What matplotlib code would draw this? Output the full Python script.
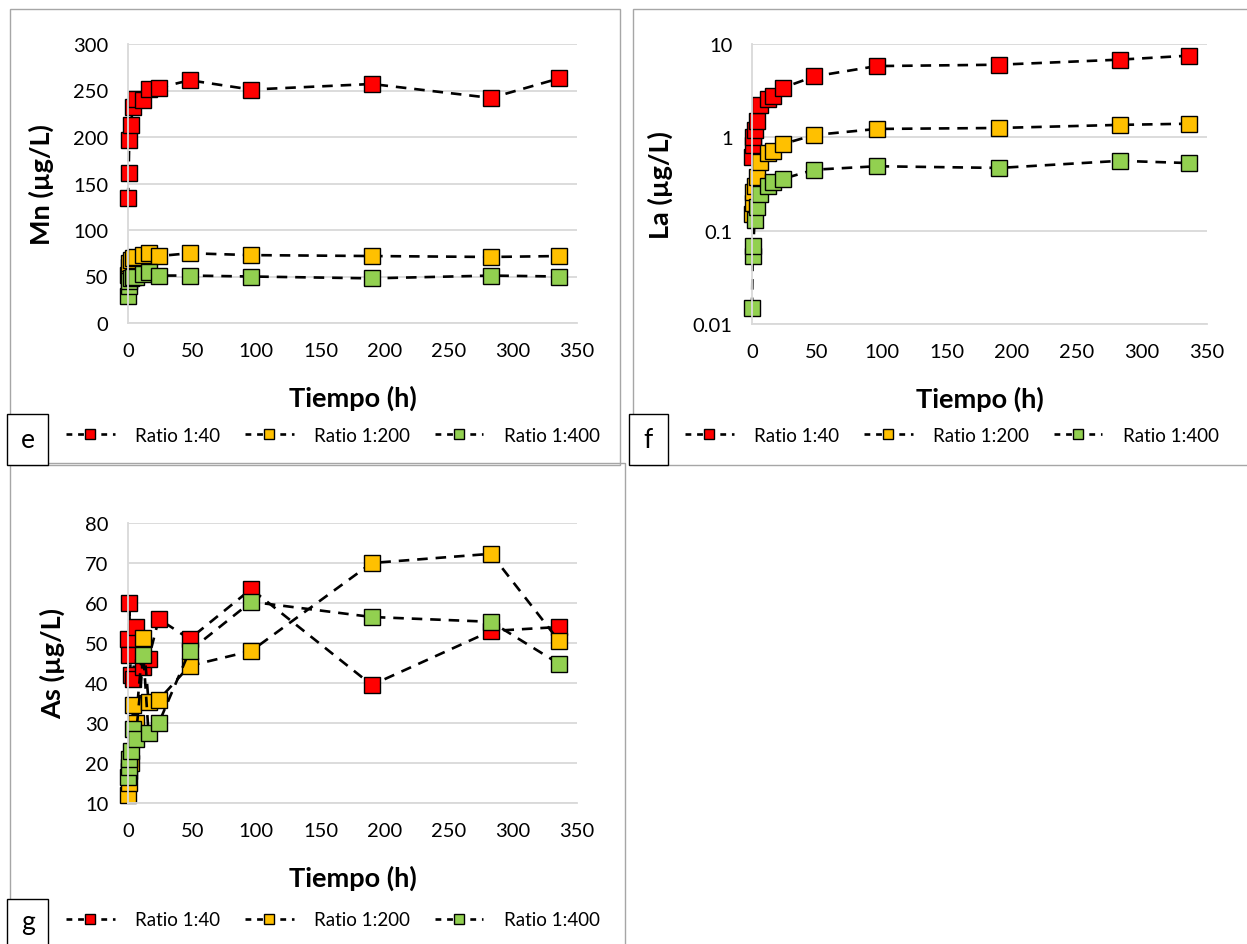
import matplotlib
matplotlib.use("Agg")
from matplotlib import pyplot as plt
from matplotlib.patches import Rectangle
from matplotlib.lines import Line2D
from matplotlib.ticker import FixedLocator, FixedFormatter, NullLocator

plt.rcParams['font.family'] = ['Lato', 'DejaVu Sans']

# sampling times (h)
tiempo = [0, 0.5, 1, 2, 4, 6, 12, 16, 24, 48, 96, 190, 283, 336]

series_names = ['Ratio 1:40', 'Ratio 1:200', 'Ratio 1:400']
series_colors = ['#FF0000', '#FFC000', '#92D050']

# e) Mn (ug/L)
mn_40 = [134, 161, 197, 213, 232, 241, 240, 252, 253, 261, 251, 257, 242, 263]
mn_200 = [52, 60, 65, 68, 70, 71, 73, 75, 72, 75, 73, 72, 71, 72]
mn_400 = [29, 40, 45, 48, 50, 50, 53, 55, 51, 51, 50, 48, 51, 50]

# f) La (ug/L)
la_40 = [0.62, 0.82, 1.0, 1.2, 1.5, 2.2, 2.6, 2.8, 3.4, 4.5, 5.8, 6.0, 6.8, 7.5]
la_200 = [0.15, 0.2, 0.26, 0.3, 0.38, 0.54, 0.68, 0.72, 0.85, 1.06, 1.23, 1.26, 1.36, 1.4]
la_400 = [0.0148, 0.054, 0.069, 0.13, 0.18, 0.25, 0.30, 0.33, 0.36, 0.45, 0.49, 0.47, 0.56, 0.53]

# g) As (ug/L)
as_40 = [51, 47, 60, 42, 41, 54, 44, 46, 56, 51, 63.5, 39.5, 53, 54]
as_200 = [12, 15, 18, 20, 34.5, 30, 51.3, 35.3, 35.8, 44.3, 48, 70, 72.3, 50.5]
as_400 = [16.5, 19, 21, 23, 28.5, 26, 47, 27.5, 30, 48, 60.3, 56.5, 55.3, 44.8]

W, H = 1247, 945
fig = plt.figure(figsize=(12.47, 9.45), dpi=100)


def fx(px):
    return px / W


def fy(py):
    return 1 - py / H


grid_col = '#D9D9D9'


def panel(left, top, right, bottom, data, ylabel, ylim, yticks, log=False, yfmt=None):
    ax = fig.add_axes([fx(left), fy(bottom), fx(right) - fx(left), fy(top) - fy(bottom)])
    for vals, col in zip(data, series_colors):
        ax.plot(tiempo, vals, color='black', lw=1.9, dashes=(4, 3),
                marker='s', markersize=12, markerfacecolor=col,
                markeredgecolor='black', markeredgewidth=1.0, clip_on=False)
    if log:
        ax.set_yscale('log')
    ax.set_xlim(0, 350)
    ax.set_ylim(*ylim)
    ax.xaxis.set_major_locator(FixedLocator([0, 50, 100, 150, 200, 250, 300, 350]))
    ax.yaxis.set_major_locator(FixedLocator(yticks))
    if yfmt is not None:
        ax.yaxis.set_major_formatter(FixedFormatter(yfmt))
    ax.yaxis.set_minor_locator(NullLocator())
    ax.grid(axis='y', color=grid_col, lw=1.3, zorder=0)
    ax.set_axisbelow(True)
    for s in ['top', 'right']:
        ax.spines[s].set_visible(False)
    for s in ['left', 'bottom']:
        ax.spines[s].set_color(grid_col)
        ax.spines[s].set_linewidth(1.3)
    ax.tick_params(axis='both', length=0, labelsize=14.5, colors='black')
    ax.tick_params(axis='y', pad=14)
    ax.tick_params(axis='x', pad=14)
    ax.set_xlabel('Tiempo (h)', fontsize=19.5, fontweight='bold', labelpad=18)
    ax.set_ylabel(ylabel, fontsize=19.5, fontweight='bold', labelpad=14)
    return ax


ax_e = panel(128, 45, 577, 324, [mn_40, mn_200, mn_400], 'Mn (µg/L)',
             (0, 300), [0, 50, 100, 150, 200, 250, 300])
ax_f = panel(752, 45, 1207, 325, [la_40, la_200, la_400], 'La (µg/L)',
             (0.01, 10), [0.01, 0.1, 1, 10], log=True, yfmt=['0.01', '0.1', '1', '10'])
ax_g = panel(128, 524, 577, 804, [as_40, as_200, as_400], 'As (µg/L)',
             (10, 80), [10, 20, 30, 40, 50, 60, 70, 80])

# chart frames
frame_col = '#A6A6A6'
for (x0, y0, x1, y1) in [(10, 10, 620, 466), (633, 10, 1260, 466), (10, 464, 625, 960)]:
    fig.add_artist(Rectangle((fx(x0), fy(y1)), fx(x1) - fx(x0), fy(y0) - fy(y1),
                             transform=fig.transFigure, fill=False,
                             edgecolor=frame_col, lw=1.0))

# panel letters
for (x0, y0, x1, y1, letter) in [(7, 415, 48, 466, 'e'), (629, 415, 668, 466, 'f'),
                                 (7, 900, 48, 960, 'g')]:
    fig.add_artist(Rectangle((fx(x0), fy(y1)), fx(x1) - fx(x0), fy(y0) - fy(y1),
                             transform=fig.transFigure, facecolor='white',
                             edgecolor='black', lw=1.0))
    fig.text(fx((x0 + x1) / 2), fy(min(y1, 945) - (min(y1, 945) - y0) / 2), letter,
             ha='center', va='center', fontsize=19)

# legends
handles = [Line2D([], [], color='black', lw=1.9, dashes=(2.2, 2.2), marker='s',
                  markersize=7, markerfacecolor=c, markeredgecolor='black',
                  markeredgewidth=1.0) for c in series_colors]
for cx, cy in [(333, 436), (952, 436), (333, 921)]:
    fig.legend(handles, series_names, loc='center', bbox_to_anchor=(fx(cx), fy(cy)),
               ncol=3, frameon=False, fontsize=13.5, handlelength=2.6,
               columnspacing=1.3, handletextpad=1.1)

fig.savefig('out.png', dpi=100, facecolor='white')
